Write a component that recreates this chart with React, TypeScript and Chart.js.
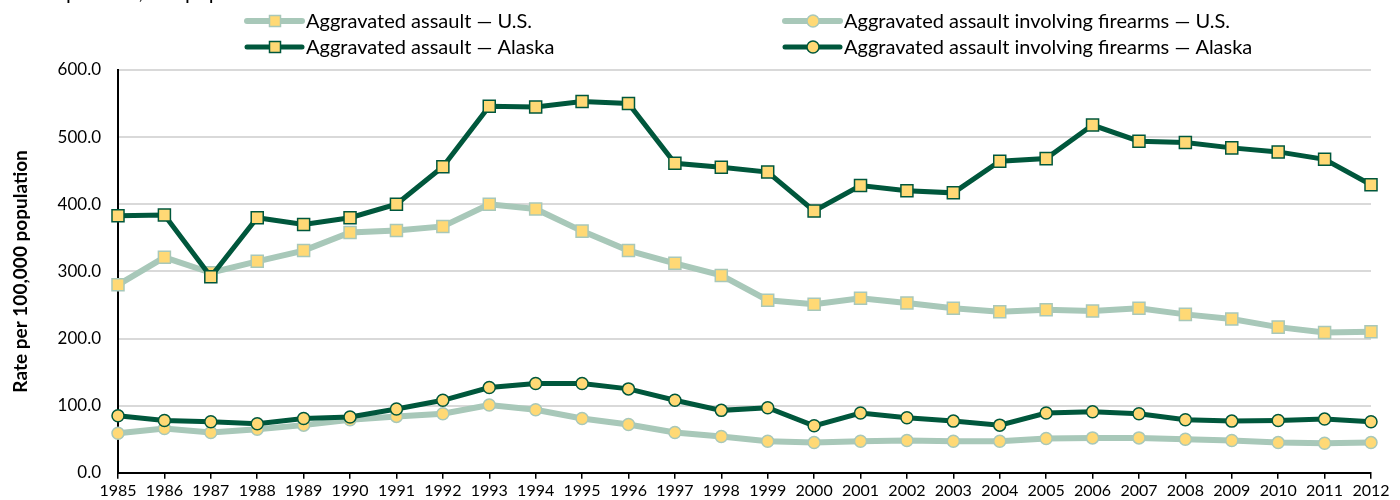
import React, { useEffect, useRef } from "react";
import { Chart, registerables } from "chart.js";

Chart.register(...registerables);

const years = [
  "1985", "1986", "1987", "1988", "1989", "1990", "1991", "1992", "1993", "1994",
  "1995", "1996", "1997", "1998", "1999", "2000", "2001", "2002", "2003", "2004",
  "2005", "2006", "2007", "2008", "2009", "2010", "2011", "2012",
];

const usAssault = [
  280, 321, 298, 315, 331, 358, 361, 367, 400, 393,
  360, 331, 312, 294, 257, 251, 260, 253, 245, 240,
  243, 241, 245, 236, 229, 217, 209, 210,
];

const usFirearms = [
  59, 66, 60, 65, 71, 79, 84, 88, 101, 94,
  81, 72, 60, 54, 47, 45, 47, 48, 47, 47,
  51, 52, 52, 50, 48, 45, 44, 45,
];

const akAssault = [
  383, 384, 292, 380, 370, 380, 400, 456, 546, 545,
  553, 550, 461, 455, 448, 390, 428, 420, 417, 464,
  468, 518, 494, 492, 484, 478, 467, 429,
];

const akFirearms = [
  85, 78, 76, 73, 81, 83, 95, 108, 127, 133,
  133, 125, 108, 93, 97, 70, 89, 82, 77, 71,
  89, 91, 88, 79, 77, 78, 80, 76,
];

const seriesLabels = [
  "Aggravated assault \u2014 U.S.",
  "Aggravated assault involving firearms \u2014 U.S.",
  "Aggravated assault \u2014 Alaska",
  "Aggravated assault involving firearms \u2014 Alaska",
];

const yAxisTitle = "Rate per 100,000 population";
const topClippedTitle = "Rate per 100,000 population";

const DARK = "#00573c";
const LIGHT = "#a8c8b9";
const FILL = "#ffd975";
const FONT = "Lato, 'Noto Sans', sans-serif";

const legendPlugin = {
  id: "customLegend",
  afterDraw(chart: any) {
    const ctx = chart.ctx;
    const slots = [
      [247, 21],
      [785, 21],
      [247, 47],
      [785, 47],
    ];
    ctx.save();
    chart.data.datasets.forEach((ds: any, i: number) => {
      const [x, y] = slots[i];
      ctx.strokeStyle = ds.borderColor;
      ctx.lineWidth = ds.borderWidth;
      ctx.lineCap = "round";
      ctx.beginPath();
      ctx.moveTo(x, y);
      ctx.lineTo(x + 55, y);
      ctx.stroke();
      ctx.fillStyle = ds.pointBackgroundColor;
      ctx.strokeStyle = ds.pointBorderColor;
      ctx.lineWidth = ds.pointBorderWidth;
      const cx = x + 28;
      if (ds.pointStyle === "rect") {
        ctx.beginPath();
        ctx.rect(cx - 5.5, y - 5.5, 11, 11);
        ctx.fill();
        ctx.stroke();
      } else {
        ctx.beginPath();
        ctx.arc(cx, y, 6, 0, Math.PI * 2);
        ctx.fill();
        ctx.stroke();
      }
      ctx.fillStyle = "#000";
      ctx.font = `20px ${FONT}`;
      ctx.textBaseline = "middle";
      ctx.textAlign = "left";
      ctx.fillText(ds.label, x + 59, y + 1);
    });
    // clipped text at the very top of the image
    ctx.font = `21px ${FONT}`;
    ctx.textBaseline = "alphabetic";
    ctx.fillStyle = "#000";
    const prefix = ctx.measureText("Rate ").width;
    ctx.fillText(topClippedTitle, 66 - prefix, -1);
    ctx.restore();
  },
};

export default function App() {
  const ref = useRef<HTMLCanvasElement | null>(null);

  useEffect(() => {
    if (!ref.current) return;
    const mk = (label: string, data: number[], dark: boolean, square: boolean) => ({
      label,
      data,
      borderColor: dark ? DARK : LIGHT,
      borderWidth: dark ? 5 : 6,
      pointStyle: square ? "rect" : "circle",
      pointRadius: square ? 8.5 : 6,
      pointBackgroundColor: FILL,
      pointBorderColor: dark ? DARK : LIGHT,
      pointBorderWidth: 1.5,
      tension: 0,
      order: dark ? 0 : 1,
    });
    const chart = new Chart(ref.current, {
      type: "line",
      data: {
        labels: years,
        datasets: [
          mk(seriesLabels[0], usAssault, false, true),
          mk(seriesLabels[1], usFirearms, false, false),
          mk(seriesLabels[2], akAssault, true, true),
          mk(seriesLabels[3], akFirearms, true, false),
        ] as any,
      },
      options: {
        responsive: false,
        animation: false,
        layout: { padding: { left: 0, right: 29, top: 70, bottom: 0 } },
        plugins: {
          legend: { display: false },
          tooltip: { enabled: false },
        },
        scales: {
          x: {
            offset: false,
            afterFit: (scale: any) => {
              scale.height = 27;
            },
            grid: {
              drawOnChartArea: false,
              drawTicks: true,
              tickLength: 6,
              tickColor: "#000",
              lineWidth: 1.5,
            },
            border: { color: "#000", width: 2 },
            ticks: {
              autoSkip: false,
              maxRotation: 0,
              color: "#000",
              padding: 2,
              font: { family: FONT, size: 16 },
            },
          },
          y: {
            min: 0,
            max: 600,
            afterFit: (scale: any) => {
              scale.width = 118;
            },
            grid: {
              color: "#d9d9d9",
              lineWidth: 2,
              drawTicks: false,
            },
            border: { color: "#000", width: 2 },
            ticks: {
              stepSize: 100,
              color: "#000",
              padding: 17,
              font: { family: FONT, size: 17 },
              callback: (v: any) => Number(v).toFixed(1),
            },
            title: {
              display: true,
              text: yAxisTitle,
              color: "#000",
              font: { family: FONT, size: 19, weight: "bold" },
              padding: { top: 9, bottom: 0 },
            },
          },
        },
      },
      plugins: [legendPlugin],
    });
    return () => chart.destroy();
  }, []);

  return (
    <div style={{ position: "fixed", left: 0, top: 0, width: 1400, height: 500, background: "#fff" }}>
      <canvas ref={ref} width={1400} height={500} style={{ display: "block" }} />
    </div>
  );
}
